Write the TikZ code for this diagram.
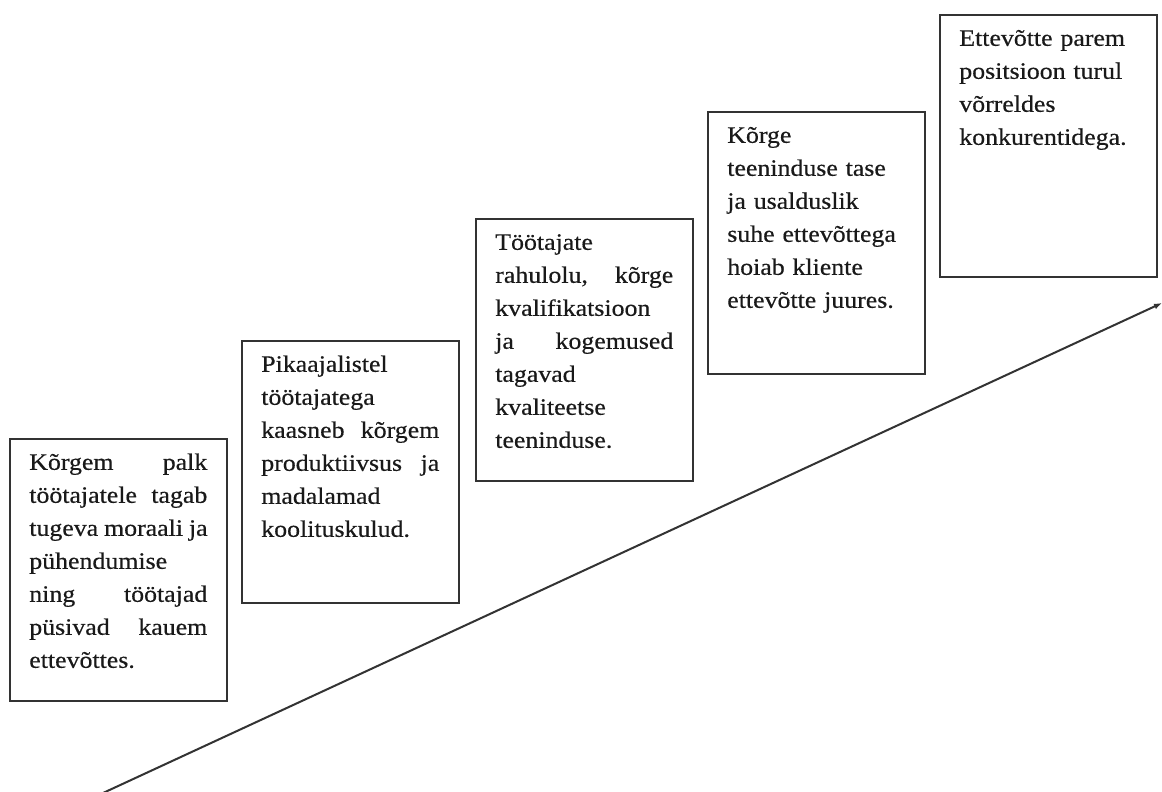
\documentclass[tikz,border=0pt]{standalone}
\usepackage{fontspec}
\setmainfont{Liberation Serif}[FakeStretch=1.1,FakeBold=0.5]
\usetikzlibrary{arrows.meta}
\newcommand{\jl}[1]{\leavevmode\hbox to 178pt{\spaceskip=0.25em plus 1fil\relax #1}\\}
\newcommand{\nl}[1]{\mbox{#1}\\}
\tikzset{
  stepbox/.style={draw=black!80, line width=1.6pt, anchor=north west,
    inner xsep=19.5pt, inner ysep=0pt, text width=178pt, align=left,
    text height=31pt, text depth=231pt, text=black!90,
    font=\fontsize{23.5pt}{33pt}\selectfont},
  riseline/.style={draw=black!80, line width=2pt, -{Latex[length=8pt,width=6pt]}}
}
\begin{document}
\begin{tikzpicture}[x=1pt,y=-1pt]
\useasboundingbox (0,0) rectangle (1162,792);
\node[stepbox] (b1) at (9,438) {\jl{Kõrgem palk}\jl{töötajatele tagab}\jl{tugeva moraali ja}\nl{pühendumise}\jl{ning töötajad}\jl{püsivad kauem}\mbox{ettevõttes.}};
\node[stepbox] (b2) at (241,340) {\nl{Pikaajalistel}\nl{töötajatega}\jl{kaasneb kõrgem}\jl{produktiivsus ja}\nl{madalamad}\mbox{koolituskulud.}};
\node[stepbox] (b3) at (475,218) {\nl{Töötajate}\jl{rahulolu, kõrge}\nl{kvalifikatsioon}\jl{ja kogemused}\nl{tagavad}\nl{kvaliteetse}\mbox{teeninduse.}};
\node[stepbox] (b4) at (707,111) {\nl{Kõrge}\nl{teeninduse tase}\nl{ja usalduslik}\nl{suhe ettevõttega}\nl{hoiab kliente}\mbox{ettevõtte juures.}};
\node[stepbox] (b5) at (939,14) {\nl{Ettevõtte parem}\nl{positsioon turul}\nl{võrreldes}\mbox{konkurentidega.}};
\coordinate (s) at (103,793);
\coordinate (e) at (1162,303);
\draw[riseline] (s) -- (e);
\end{tikzpicture}
\end{document}
